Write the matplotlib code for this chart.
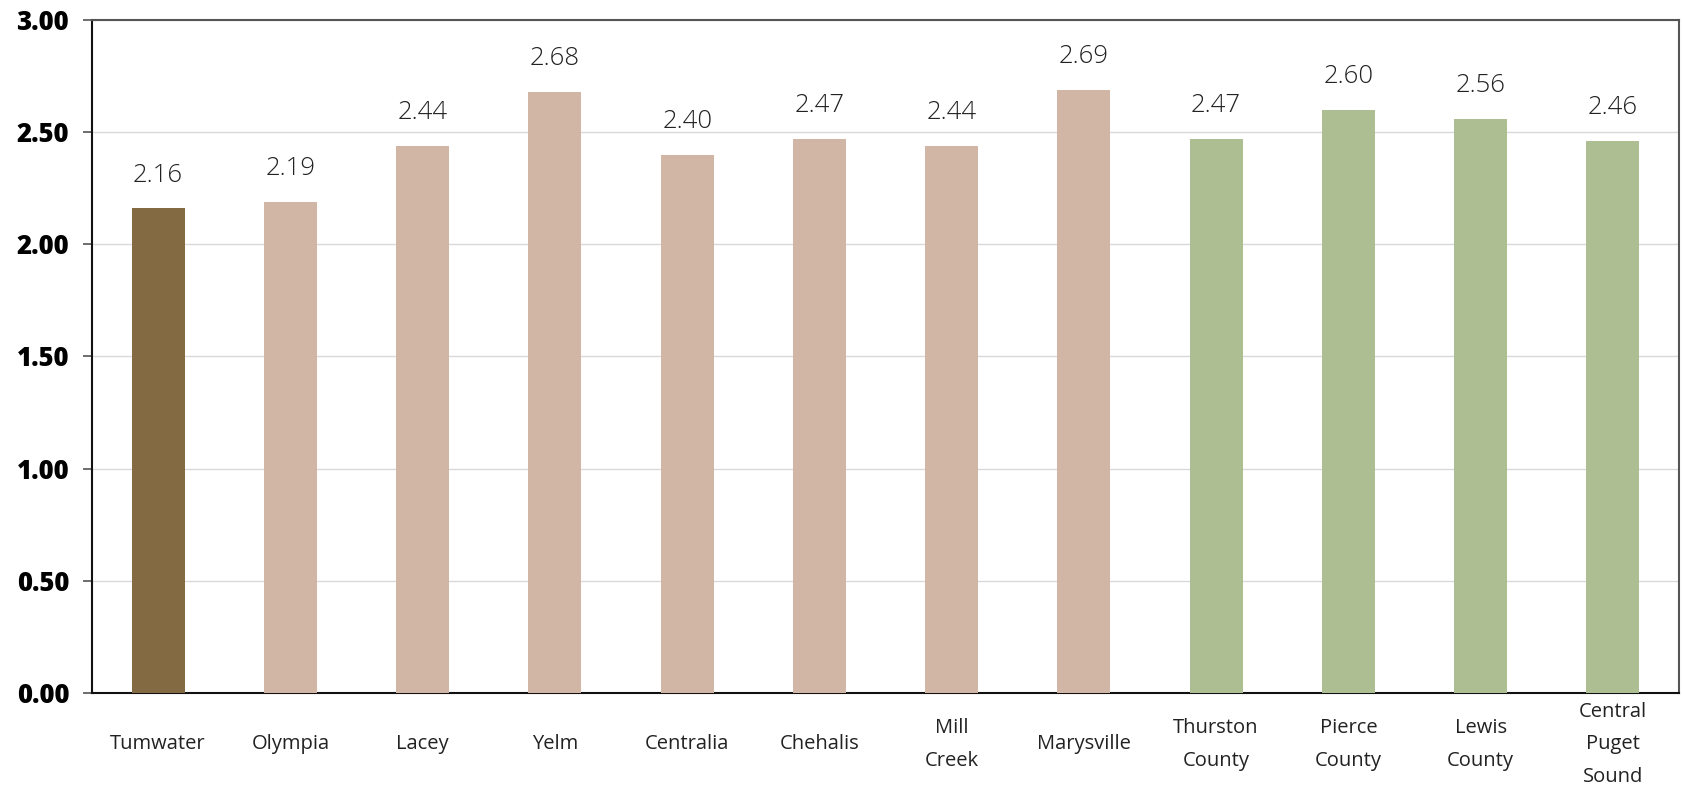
import matplotlib.pyplot as plt

cities = ['Tumwater', 'Olympia', 'Lacey', 'Yelm', 'Centralia', 'Chehalis',
          'Mill\nCreek', 'Marysville', 'Thurston\nCounty', 'Pierce\nCounty',
          'Lewis\nCounty', 'Central\nPuget\nSound']
values = [2.16, 2.19, 2.44, 2.68, 2.40, 2.47, 2.44, 2.69, 2.47, 2.60, 2.56, 2.46]
groups = ['focus', 'city', 'city', 'city', 'city', 'city', 'city', 'city',
          'region', 'region', 'region', 'region']

palette = {'focus': '#846A42', 'city': '#D2B6A5', 'region': '#ADBE93'}
colors = [palette[g] for g in groups]

fig = plt.figure(figsize=(16.83, 7.86), dpi=100)
ax = fig.add_axes([0.0547, 0.1183, 0.9429, 0.8563])

x = range(len(cities))
bars = ax.bar(x, values, width=0.4, color=colors, zorder=3)

ax.set_xlim(-0.5, len(cities) - 0.5)
ax.set_ylim(0, 3.0)
ax.set_yticks([0, 0.5, 1.0, 1.5, 2.0, 2.5, 3.0])
ax.set_yticklabels(['%.2f' % v for v in ax.get_yticks()],
                   fontfamily='Open Sans', fontweight='heavy', fontsize=18.5)
ax.yaxis.grid(True, color='#d9d9d9', linewidth=1, zorder=0)

ax.set_xticks(list(x))
ax.set_xticklabels(cities, fontfamily='Open Sans', fontsize=14.5,
                   linespacing=1.85, color='#222222')
for lab in ax.get_xticklabels():
    lab.set_verticalalignment('center')
ax.tick_params(axis='x', length=0, pad=37)
ax.tick_params(axis='y', length=6.5, width=1.2, color='#555555', pad=10)

for side in ['left', 'bottom']:
    ax.spines[side].set_color('#111111')
    ax.spines[side].set_linewidth(1.5)
for side in ['top', 'right']:
    ax.spines[side].set_color('#555555')
    ax.spines[side].set_linewidth(1.5)

# value labels above each bar
for b, v in zip(bars, values):
    ax.annotate('%.2f' % v, (b.get_x() + b.get_width() / 2, v),
                xytext=(0, 15), textcoords='offset points',
                ha='center', va='bottom', fontsize=18.5,
                fontfamily='Open Sans', fontweight='light', color='#222222')

fig.savefig('out.png', dpi=100)
